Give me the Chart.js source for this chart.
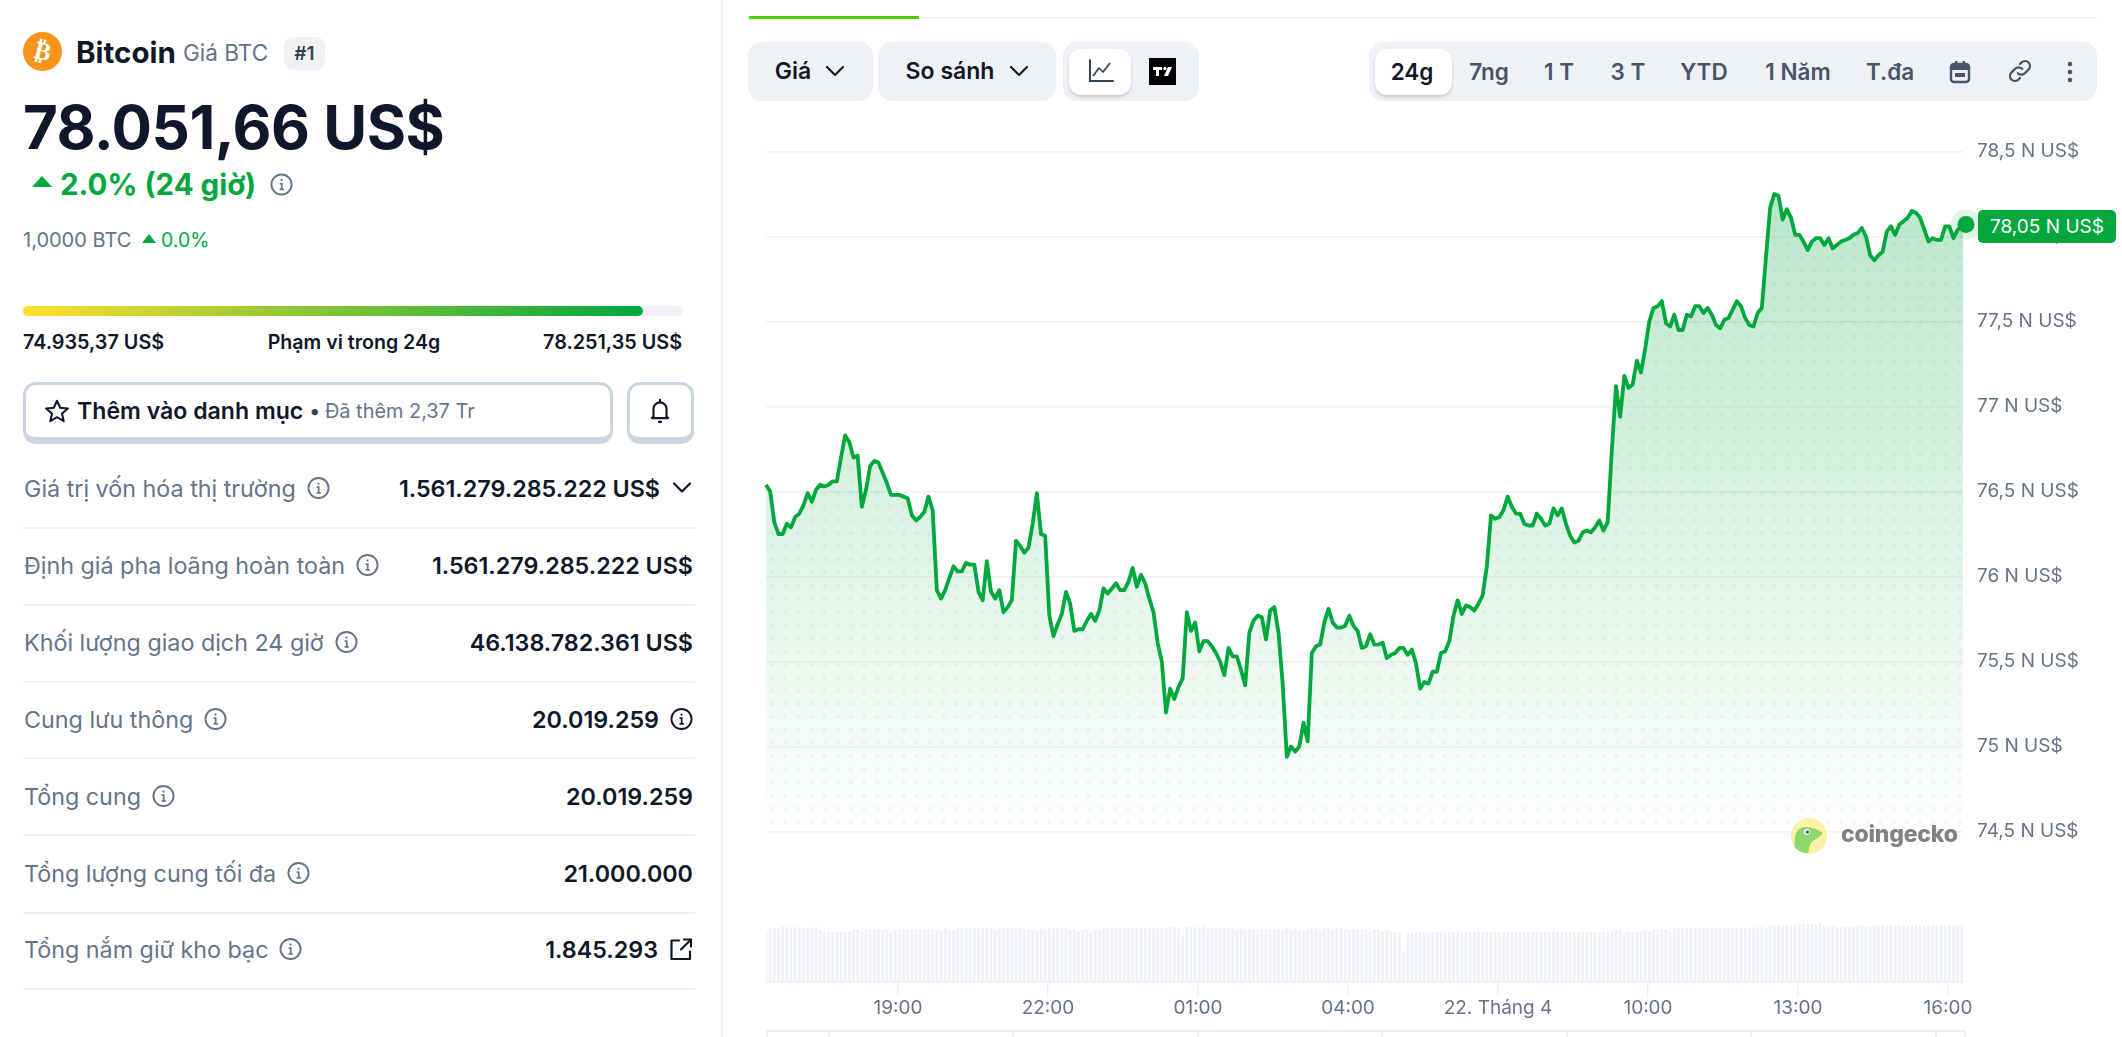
<!DOCTYPE html>
<html lang="vi">
<head>
<meta charset="utf-8">
<title>Bitcoin</title>
<script src="https://cdn.jsdelivr.net/npm/chart.js@4"></script>
<style>
  html, body { margin: 0; padding: 0; background: #fff; }
  body { position: relative; width: 2122px; height: 1037px; overflow: hidden; font-family: Inter, sans-serif; color: #0f172a; }
  .abs { position: absolute; white-space: nowrap; }
  .mid { transform: translateY(-50%); }
  .ctr { transform: translate(-50%, -50%); }
  .gray { color: #64748b; }
  .green { color: #00a83e; }
  .strong { font-weight: 600; }
  .pill { position: absolute; background: #eff2f5; border-radius: 14px; }
  .raised { position: absolute; background: #fff; border-radius: 12px; box-shadow: 0 2px 3px rgba(15, 23, 42, 0.2); }
  .row { position: absolute; left: 24px; width: 669px; display: flex; justify-content: space-between; align-items: center; font-size: 23.3px; transform: translateY(-50%); }
  .row span { display: inline-flex; align-items: center; gap: 11px; }
  .rule { position: absolute; left: 23px; width: 672px; height: 2px; background: #eff2f5; }
  svg { display: block; }
  #chartWrap { position: absolute; left: 722px; top: 110px; width: 1400px; height: 927px; }
  #badge { position: absolute; left: 1978px; top: 210px; width: 138px; height: 33px; line-height: 33px; background: #00a83e; color: #fff; border-radius: 5px; text-align: center; font-size: 19px; }
</style>
</head>
<body>

<!-- left column -->
<div class="abs" style="left:721px;top:0;width:2px;height:1037px;background:#f1f3f6"></div>
<div class="abs" style="left:23px;top:32px;width:39px;height:39px;border-radius:50%;background:#f7931a"></div>
<div class="abs ctr" style="left:42.5px;top:51px;color:#fff;font:700 25px 'DejaVu Sans';transform:translate(-50%,-50%) rotate(14deg)">₿</div>
<div class="abs mid" style="left:76px;top:52px;font-size:29.5px;font-weight:700">Bitcoin</div>
<div class="abs mid gray" style="left:183px;top:52px;font-size:22.6px">Giá BTC</div>
<div class="pill" style="left:284px;top:37px;width:41px;height:33px;border-radius:9px"></div>
<div class="abs ctr strong" style="left:304.5px;top:53px;font-size:19px;color:#334155">#1</div>

<div class="abs mid" style="left:23px;top:127px;font-size:60px;font-weight:700;letter-spacing:-0.5px">78.051,66 US$</div>
<svg class="abs" style="left:31px;top:175px" width="22" height="13"><polygon points="11,1 21,12 1,12" fill="#00a83e"/></svg>
<div class="abs mid green" style="left:60px;top:184px;font-size:29.5px;font-weight:700">2.0% (24 giờ)</div>
<span id="changeInfo" class="abs" style="left:270px;top:173px"></span>

<div class="abs mid gray" style="left:23px;top:240px;font-size:20px">1,0000 BTC</div>
<svg class="abs" style="left:142px;top:234px" width="14" height="9"><polygon points="7,0 14,9 0,9" fill="#00a83e"/></svg>
<div class="abs mid green" style="left:161px;top:240px;font-size:19.5px">0.0%</div>

<div class="abs" style="left:23px;top:306px;width:660px;height:10px;border-radius:5px;background:#eff2f5"></div>
<div class="abs" style="left:23px;top:306px;width:620px;height:10px;border-radius:5px;background:linear-gradient(90deg,#ffdf2e,#00a83e)"></div>
<div class="abs mid strong" style="left:23px;top:342px;font-size:19.8px">74.935,37 US$</div>
<div class="abs ctr strong" style="left:354px;top:342px;font-size:19.6px">Phạm vi trong 24g</div>
<div class="abs mid strong" style="right:1440px;top:342px;font-size:19.8px">78.251,35 US$</div>

<div class="abs" style="left:23px;top:382px;width:590px;height:62px;box-sizing:border-box;border:3px solid #cbd5e1;border-bottom-width:7px;border-radius:13px"></div>
<svg class="abs" style="left:44px;top:398px" width="26" height="26" viewBox="0 0 24 24"><polygon points="12,2.5 14.9,9 22,9.7 16.6,14.4 18.2,21.4 12,17.7 5.8,21.4 7.4,14.4 2,9.7 9.1,9" fill="none" stroke="#0f172a" stroke-width="1.9" stroke-linejoin="round"/></svg>
<div class="abs mid strong" style="left:77px;top:411px;font-size:23.1px">Thêm vào danh mục</div>
<div class="abs mid" style="left:310px;top:411px;font-size:19.9px;color:#334155"><b>•</b></div>
<div class="abs mid gray" style="left:325px;top:411px;font-size:19.9px">Đã thêm 2,37 Tr</div>
<div class="abs" style="left:627px;top:382px;width:67px;height:62px;box-sizing:border-box;border:3px solid #cbd5e1;border-bottom-width:7px;border-radius:13px"></div>
<svg class="abs" style="left:647px;top:398px" width="26" height="26" viewBox="0 0 24 24" fill="none" stroke="#0f172a" stroke-width="2" stroke-linejoin="round" stroke-linecap="round"><path d="M6 17V10a6 6 0 0 1 12 0v7l1.5 1.5h-15Z"/><path d="M12 1.8v2M11 22h2"/></svg>

<div id="rows"></div>

<!-- chart header -->
<div class="abs" style="left:919px;top:17px;width:1178px;height:2px;background:#eff2f5"></div>
<div class="abs" style="left:749px;top:16px;width:170px;height:3px;background:#4bcc00"></div>
<div class="pill" style="left:748px;top:42px;width:125px;height:59px"></div>
<div class="abs ctr strong" style="left:793px;top:71px;font-size:23px">Giá</div>
<span class="chev abs" style="left:824px;top:60px"></span>
<div class="pill" style="left:878px;top:42px;width:178px;height:59px"></div>
<div class="abs ctr strong" style="left:950px;top:71px;font-size:23px">So sánh</div>
<span class="chev abs" style="left:1008px;top:60px"></span>
<div class="pill" style="left:1063px;top:42px;width:136px;height:59px"></div>
<div class="raised" style="left:1069px;top:49px;width:62px;height:46px"></div>
<svg class="abs" style="left:1088px;top:58px" width="26" height="26" viewBox="0 0 26 26" fill="none" stroke="#334155" stroke-width="2"><path d="M2 2v21h23" stroke-linecap="round"/><path d="M5 18l6-8 4 4 7-9" stroke-linejoin="round" stroke-width="1.7"/></svg>
<svg class="abs" style="left:1149px;top:58px" width="27" height="27"><rect width="27" height="27" fill="#000"/><path d="M4 9h9v3h-3v6H7v-6H4Z" fill="#fff"/><circle cx="16" cy="10.5" r="1.7" fill="#fff"/><path d="M19 9h4l-4 9h-4Z" fill="#fff"/></svg>

<div class="pill" style="left:1369px;top:42px;width:728px;height:59px"></div>
<div class="raised" style="left:1375px;top:49px;width:77px;height:46px"></div>
<div id="ranges"></div>
<svg class="abs" style="left:1949px;top:60px" width="22" height="24" viewBox="0 0 22 24"><rect x="2" y="4" width="18" height="18" rx="3" fill="none" stroke="#475569" stroke-width="2.4"/><rect x="2" y="4" width="18" height="6" fill="#475569"/><rect x="6" y="1" width="2.4" height="5" fill="#475569"/><rect x="13.6" y="1" width="2.4" height="5" fill="#475569"/><rect x="6" y="13" width="10" height="4" fill="#475569"/></svg>
<svg class="abs" style="left:2006px;top:58px" width="28" height="26" viewBox="0 0 24 24" fill="none" stroke="#475569" stroke-width="2.1" stroke-linecap="round"><path d="M10 14a4.5 4.5 0 0 0 6.5 0l3.5-3.5a4.6 4.6 0 0 0-6.5-6.5l-1.5 1.5"/><path d="M14 10a4.5 4.5 0 0 0-6.5 0L4 13.5a4.6 4.6 0 0 0 6.5 6.5l1.5-1.5"/></svg>
<svg class="abs" style="left:2066px;top:60px" width="8" height="24"><circle cx="4" cy="4" r="2.3" fill="#475569"/><circle cx="4" cy="12" r="2.3" fill="#475569"/><circle cx="4" cy="20" r="2.3" fill="#475569"/></svg>

<div id="chartWrap"><canvas id="chart-btc" width="1400" height="927"></canvas></div>
<div id="badge">78,05 N US$</div>

<svg class="abs" style="left:1791px;top:818px" width="36" height="36" viewBox="0 0 36 36"><circle cx="18" cy="18" r="18" fill="#fdf0a8"/><path d="M4 30C2 18 6 8 15 9c6 0 11 2 17 6-3 5-9 6-12 10-2 3-2 7-3 10-5 0-10-2-13-5Z" fill="#8dd96b"/><circle cx="16" cy="14" r="3.2" fill="#e8e8e8"/><circle cx="16.5" cy="14" r="1.6" fill="#555"/></svg>
<div class="abs mid" style="left:1841px;top:834px;font-size:23px;font-weight:800;color:#808285;letter-spacing:-0.2px">coingecko</div>

<div class="abs" style="left:766px;top:1030px;width:1199px;height:2px;background:#eff2f5"></div>
<div id="navMarks"></div>

<script>
  const priceValues = [
    76.54, 76.50, 76.32, 76.25, 76.25, 76.31, 76.29, 76.35, 76.37, 76.42, 76.49, 76.44, 76.51, 76.54, 76.53, 76.54, 76.56, 76.56, 76.70, 76.83,
    76.79, 76.70, 76.71, 76.41, 76.51, 76.65, 76.68, 76.67, 76.61, 76.55, 76.48, 76.48, 76.48, 76.47, 76.46, 76.36, 76.33, 76.35, 76.38, 76.47,
    76.39, 75.92, 75.87, 75.92, 75.99, 76.06, 76.03, 76.03, 76.08, 76.07, 76.07, 75.91, 75.86, 76.09, 75.91, 75.87, 75.92, 75.79, 75.82, 75.86,
    76.21, 76.18, 76.14, 76.17, 76.31, 76.49, 76.25, 76.24, 75.77, 75.65, 75.72, 75.78, 75.91, 75.84, 75.68, 75.69, 75.69, 75.74, 75.78, 75.74,
    75.80, 75.93, 75.90, 75.93, 75.96, 75.92, 75.92, 75.97, 76.05, 75.94, 76.01, 75.96, 75.87, 75.79, 75.61, 75.50, 75.20, 75.34, 75.28, 75.35,
    75.40, 75.79, 75.68, 75.73, 75.56, 75.62, 75.62, 75.59, 75.55, 75.50, 75.42, 75.58, 75.53, 75.53, 75.45, 75.36, 75.67,
    75.74, 75.77, 75.76, 75.63, 75.80, 75.82, 75.67, 75.37, 74.94, 75.00, 74.97, 75.00, 75.14, 75.03, 75.55, 75.59, 75.60, 75.73, 75.81, 75.73,
    75.70, 75.70, 75.71, 75.77, 75.71, 75.68, 75.58, 75.59, 75.66, 75.60, 75.60, 75.61, 75.52, 75.54, 75.55, 75.58, 75.58, 75.54, 75.57, 75.49,
    75.34, 75.38, 75.37, 75.44, 75.44, 75.55, 75.56, 75.62, 75.77, 75.86, 75.78, 75.83, 75.82, 75.80, 75.84, 75.89, 76.06, 76.36, 76.34, 76.35,
    76.39, 76.47, 76.41, 76.37, 76.37, 76.31, 76.30, 76.30, 76.37, 76.34, 76.30, 76.31, 76.40, 76.36, 76.40, 76.31, 76.24, 76.20, 76.21, 76.26,
    76.27, 76.26, 76.29, 76.33, 76.27, 76.32,
    76.74, 77.12, 76.94, 77.18, 77.11, 77.13, 77.27, 77.20, 77.34,
    77.50, 77.58, 77.59, 77.62, 77.49, 77.47, 77.54, 77.45, 77.45, 77.54, 77.53, 77.59, 77.59, 77.55, 77.58, 77.54, 77.48, 77.46, 77.51, 77.52,
    77.57, 77.62, 77.59, 77.52, 77.48, 77.47, 77.55, 77.58, 77.88, 78.17, 78.25, 78.24, 78.10, 78.16, 78.11, 78.01, 78.01, 77.97, 77.92, 77.97,
    77.99, 77.99, 77.95, 77.99, 77.93, 77.95, 77.97, 77.98, 77.99, 78.01, 78.02, 78.05, 78.00, 77.89, 77.86, 77.89, 77.91, 78.03, 78.06, 78.01,
    78.07, 78.09, 78.11, 78.15, 78.14, 78.11, 78.04, 77.97, 77.99, 77.98, 77.98, 78.06, 78.06, 77.99, 78.04, 78.06, 78.07,
  ];

  const volumeValues = [
    43.4, 44.8, 44.8, 44.8, 46.2, 46.2, 44.8, 46.2, 44.8, 44.8, 44.8, 44.8, 46.2, 43.4, 41.7, 41.7, 41.7, 41.7, 41.7, 41.7,
    41.7, 43.4, 43.4, 41.7, 43.4, 43.4, 43.4, 43.4, 43.4, 43.4, 41.7, 43.4, 43.4, 43.4, 43.4, 43.4, 43.4, 43.4, 43.4, 43.4,
    43.4, 43.4, 43.4, 44.8, 43.4, 43.4, 44.8, 44.8, 44.8, 44.8, 44.8, 44.8, 44.8, 44.8, 44.8, 43.4, 44.8, 44.8, 44.8, 44.8,
    44.8, 44.8, 43.4, 43.4, 43.4, 43.4, 44.8, 43.4, 44.8, 44.8, 44.8, 44.8, 44.8, 43.4, 43.4, 41.7, 43.4, 43.4, 41.7, 43.4,
    43.4, 44.8, 44.8, 44.8, 44.8, 44.8, 44.8, 44.8, 44.8, 44.8, 44.8, 44.8, 44.8, 44.8, 44.8,
    44.8, 44.8, 46.2, 46.2, 44.8, 37.8, 46.2, 46.2, 46.2, 44.8, 46.2, 44.8, 44.8, 44.8, 44.8, 44.8, 44.8, 44.8, 43.4, 44.8,
    43.4, 43.4, 43.4, 43.4, 43.4, 43.4, 43.4, 43.4, 43.4, 43.4, 44.8, 43.4, 44.8, 43.4, 43.4, 43.4, 44.8, 44.8, 43.4, 44.8,
    44.8, 43.4, 44.8, 44.8, 43.4, 43.4, 43.4, 43.4, 43.4, 43.4, 41.7, 43.4, 43.4, 41.7, 43.4, 41.7, 41.7, 41.7, 25.2, 40.6,
    40.6, 41.7, 41.7, 41.7, 40.6, 41.7, 41.7, 41.7, 40.6, 41.7, 41.7, 41.7, 40.6, 41.7, 41.7, 41.7, 41.7, 41.7, 41.7, 41.7,
    41.7, 41.7, 41.7, 41.7, 41.7, 41.7, 41.7, 41.7, 41.7, 41.7, 41.7, 41.7, 41.7, 41.7, 41.7, 41.7,
    41.7, 41.7, 41.7, 41.7, 41.7, 41.7, 41.7, 41.7, 41.7, 41.7, 41.7, 41.7, 41.7, 43.4, 43.4, 40.6, 41.7, 41.7, 41.7, 41.7,
    43.4, 41.7, 43.4, 43.4, 43.4, 43.4, 41.7, 44.8, 44.8, 44.8, 44.8, 44.8, 44.8, 44.8, 44.8, 44.8, 44.8, 44.8, 44.8, 44.8,
    44.8, 44.8, 44.8, 44.8, 44.8, 44.8, 44.8, 46.2, 46.2, 44.8, 47.6, 47.6, 47.6, 47.6, 47.6, 47.6, 47.6, 48.4, 48.4, 48.4,
    48.4, 48.4, 49.8, 47.6, 46.2, 47.6, 46.2, 46.2, 46.2, 46.2, 46.2, 47.6, 47.6, 46.2, 46.2, 47.6, 47.6, 47.6, 47.6, 47.6,
    47.6, 47.6, 47.6, 47.6, 47.6, 47.6, 47.6, 47.6, 47.6, 47.6, 47.6, 47.6, 47.6, 47.6, 47.6, 47.6, 47.6, 46.2,
  ];

  // hours counted from 16:00 the day before
  const firstSampleHour = 0.36;
  const sampleStepHours = 1 / 12;

  const yTickValues = [78.5, 78, 77.5, 77, 76.5, 76, 75.5, 75, 74.5];
  const yTickLabels = ["78,5 N US$", "78 N US$", "77,5 N US$", "77 N US$", "76,5 N US$", "76 N US$", "75,5 N US$", "75 N US$", "74,5 N US$"];
  const xTickHours = [3, 6, 9, 12, 15, 18, 21, 24];
  const xTickLabels = ["19:00", "22:00", "01:00", "04:00", "22. Tháng 4", "10:00", "13:00", "16:00"];

  const statLabels = ["Giá trị vốn hóa thị trường", "Định giá pha loãng hoàn toàn", "Khối lượng giao dịch 24 giờ", "Cung lưu thông", "Tổng cung", "Tổng lượng cung tối đa", "Tổng nắm giữ kho bạc"];
  const statValues = ["1.561.279.285.222 US$", "1.561.279.285.222 US$", "46.138.782.361 US$", "20.019.259", "20.019.259", "21.000.000", "1.845.293"];
  const rangeLabels = ["24g", "7ng", "1 T", "3 T", "YTD", "1 Năm", "T.đa"];

  const palette = {
    green: "#00a83e",
    grid: "#f0f1f6",
    axis: "#eff2f5",
    bar: "#eef1f5",
    text: "#64748b",
  };

  function infoIcon(color, size) {
    return '<svg width="' + size + '" height="' + size + '" viewBox="0 0 24 24" fill="none" stroke="' + color + '" stroke-width="2">' +
      '<circle cx="12" cy="12" r="10.5"/><path d="M10 11h2.2v6M10 17h4.4" stroke-width="1.8"/><circle cx="12" cy="7.4" r="1.2" fill="' + color + '" stroke="none"/></svg>';
  }

  const chevron = '<svg width="22" height="22" viewBox="0 0 22 22" fill="none" stroke="#0f172a" stroke-width="2.2" stroke-linecap="round" stroke-linejoin="round"><path d="M3 7l8 8 8-8"/></svg>';
  const external = '<svg width="24" height="24" viewBox="0 0 24 24" fill="none" stroke="#0f172a" stroke-width="2.2" stroke-linecap="round" stroke-linejoin="round"><path d="M10 3H2.5v18.5H21V14"/><path d="M12 12 22 2M15 2h7v7"/></svg>';

  document.getElementById("changeInfo").innerHTML = infoIcon(palette.text, 23);
  document.querySelectorAll(".chev").forEach((el) => { el.innerHTML = chevron; });

  const rowCenters = [487.5, 565, 642, 719, 796, 873, 949];
  const ruleTops = [527, 604, 681, 757, 834, 912, 988];
  const rowExtras = [chevron, "", "", infoIcon("#0f172a", 23), "", "", external];
  let rowsHtml = "";
  statLabels.forEach((label, i) => {
    rowsHtml += '<div class="row" style="top:' + rowCenters[i] + 'px"><span class="gray">' + label + " " + infoIcon(palette.text, 23) + "</span>" +
      '<span class="strong">' + statValues[i] + rowExtras[i] + "</span></div>";
    rowsHtml += '<div class="rule" style="top:' + ruleTops[i] + 'px"></div>';
  });
  document.getElementById("rows").innerHTML = rowsHtml;

  const rangeCenters = [1412, 1489, 1559, 1628, 1704, 1798, 1890];
  document.getElementById("ranges").innerHTML = rangeLabels.map((label, i) =>
    '<div class="abs ctr strong" style="left:' + rangeCenters[i] + "px;top:71px;font-size:22.5px;color:" + (i === 0 ? "#0f172a" : "#475569") + '">' + label + "</div>"
  ).join("");

  const navPositions = [766, 828, 1012, 1197, 1381, 1566, 1750, 1935, 1964];
  document.getElementById("navMarks").innerHTML = navPositions.map((x) =>
    '<div class="abs" style="left:' + x + 'px;top:1030px;width:2px;height:7px;background:#eff2f5"></div>'
  ).join("");

  // gradient + dot grid baked into one pattern, so the dots only show inside the area fill
  function areaPattern(ctx, width, height) {
    const off = document.createElement("canvas");
    off.width = width;
    off.height = height;
    const o = off.getContext("2d");
    const grad = o.createLinearGradient(0, 80, 0, 722);
    grad.addColorStop(0, "rgba(0, 168, 62, 0.27)");
    grad.addColorStop(1, "rgba(0, 168, 62, 0.005)");
    o.fillStyle = grad;
    o.fillRect(0, 0, width, height);
    o.fillStyle = "rgba(0, 168, 62, 0.06)";
    for (let y = 3; y < height; y += 13.13) {
      for (let x = 49.7; x < width; x += 13.2) {
        o.beginPath();
        o.arc(x, y, 2.3, 0, Math.PI * 2);
        o.fill();
      }
    }
    return ctx.createPattern(off, "no-repeat");
  }

  Chart.defaults.font.family = "Inter, sans-serif";
  Chart.defaults.color = palette.text;

  const canvas = document.getElementById("chart-btc");
  const pricePoints = priceValues.map((v, i) => ({ x: firstSampleHour + i * sampleStepHours, y: v }));
  const volumePoints = volumeValues.map((v, i) => ({ x: firstSampleHour + i * sampleStepHours, y: v }));
  const lastPoint = pricePoints[pricePoints.length - 1];

  new Chart(canvas, {
    type: "line",
    data: {
      datasets: [
        {
          label: "Giá hiện tại",
          data: [lastPoint],
          yAxisID: "y",
          showLine: false,
          pointRadius: 15,
          pointBorderWidth: 0,
          pointBackgroundColor: "rgba(0, 168, 62, 0.12)",
          clip: false,
          order: 3,
        },
        {
          label: "Giá",
          data: [lastPoint],
          yAxisID: "y",
          showLine: false,
          pointRadius: 8.5,
          pointBorderWidth: 0,
          pointBackgroundColor: palette.green,
          clip: false,
          order: 1,
        },
        {
          label: "Giá",
          data: pricePoints,
          yAxisID: "y",
          borderColor: palette.green,
          borderWidth: 3.8,
          borderJoinStyle: "round",
          backgroundColor: areaPattern(canvas.getContext("2d"), 1400, 927),
          fill: { value: 74.5 },
          pointRadius: 0,
          tension: 0,
          clip: false,
          order: 2,
        },
        {
          type: "bar",
          label: "Khối lượng",
          data: volumePoints,
          yAxisID: "y1",
          backgroundColor: palette.bar,
          barThickness: 2.1,
          order: 4,
        },
      ],
    },
    options: {
      responsive: false,
      animation: false,
      devicePixelRatio: 1,
      layout: { padding: { left: 44, top: 41.5, right: 0, bottom: 0 } },
      plugins: { legend: { display: false }, tooltip: { enabled: false } },
      scales: {
        x: {
          type: "linear",
          offset: false,
          min: 0.36,
          max: 24.3,
          afterBuildTicks: (scale) => { scale.ticks = xTickHours.map((h) => ({ value: h })); },
          afterFit: (scale) => { scale.height = 55; },
          border: { color: palette.axis, width: 2 },
          grid: { offset: false, drawOnChartArea: false, tickLength: 15, color: palette.axis, lineWidth: 1.5 },
          ticks: {
            autoSkip: false,
            maxRotation: 0,
            padding: 0,
            font: { size: 19 },
            callback: (value) => xTickLabels[xTickHours.indexOf(value)],
          },
        },
        y: {
          position: "right",
          min: 73.615,
          max: 78.5,
          afterBuildTicks: (scale) => { scale.ticks = yTickValues.map((v) => ({ value: v })); },
          afterFit: (scale) => { scale.width = 159; },
          border: { display: false },
          grid: { color: palette.grid, lineWidth: 1.6, drawTicks: false },
          ticks: {
            padding: 14,
            crossAlign: "near",
            font: { size: 19 },
            callback: (value) => yTickLabels[yTickValues.indexOf(value)],
          },
        },
        y1: {
          display: false,
          min: 0,
          max: 698,
        },
      },
    },
  });
</script>
</body>
</html>
